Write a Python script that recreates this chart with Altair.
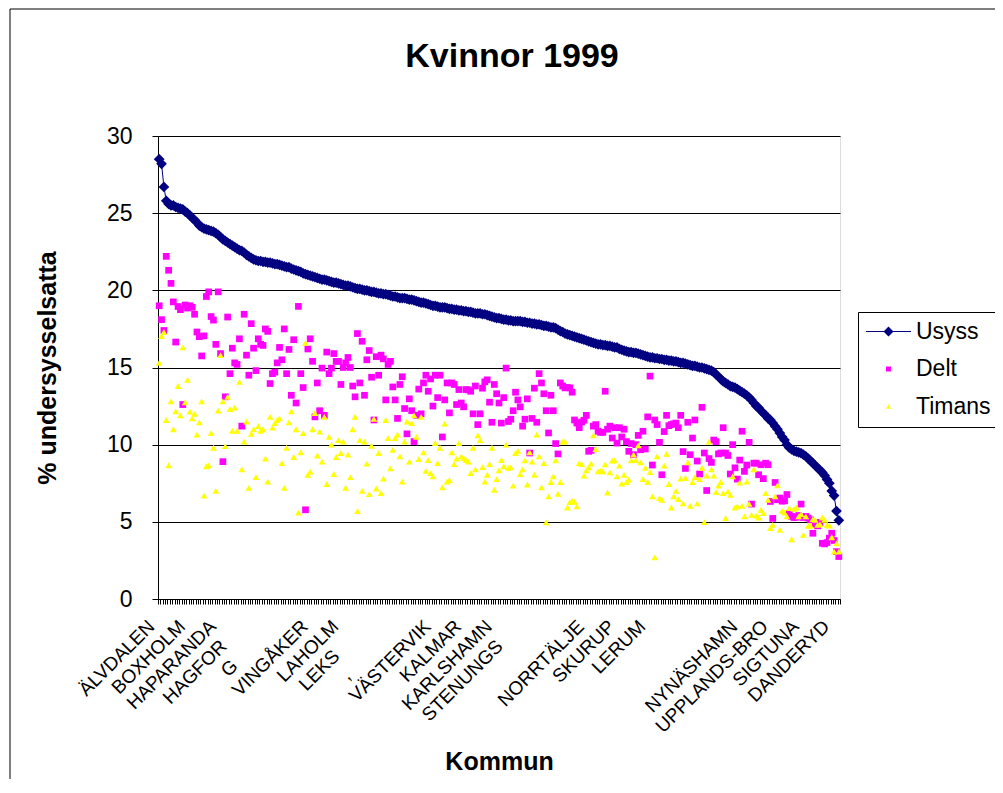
import json
import altair as alt
import pandas as pd

FONT = "Liberation Sans, Arial, sans-serif"

# ---- data ----
series_names = ["Usyss", "Delt", "Timans"]
series_colors = ["#000080", "#FF00FF", "#FFFF00"]

usyss = [
    28.5, 28.2, 26.7, 25.8, 25.6, 25.5, 25.5, 25.4, 25.35, 25.3,
    25.25, 25.1, 25.0, 24.85, 24.7, 24.55, 24.4, 24.2, 24.1, 24.0,
    23.95, 23.9, 23.85, 23.8, 23.7, 23.6, 23.45, 23.3, 23.2, 23.1,
    23.0, 22.9, 22.8, 22.7, 22.6, 22.55, 22.45, 22.3, 22.2, 22.1,
    22.0, 21.95, 21.9, 21.9, 21.85, 21.85, 21.8, 21.8, 21.75, 21.7,
    21.7, 21.65, 21.6, 21.55, 21.5, 21.5, 21.4, 21.35, 21.3, 21.25,
    21.2, 21.1, 21.05, 21.0, 20.95, 20.9, 20.85, 20.8, 20.75, 20.7,
    20.7, 20.65, 20.6, 20.55, 20.5, 20.5, 20.45, 20.4, 20.35, 20.3,
    20.3, 20.25, 20.2, 20.15, 20.1, 20.1, 20.05, 20.0, 20.0, 19.95,
    19.9, 19.9, 19.85, 19.8, 19.8, 19.75, 19.75, 19.7, 19.65, 19.6,
    19.6, 19.55, 19.5, 19.5, 19.5, 19.45, 19.4, 19.4, 19.35, 19.3,
    19.25, 19.2, 19.2, 19.15, 19.1, 19.05, 19.0, 19.0, 18.95, 18.9,
    18.9, 18.9, 18.85, 18.8, 18.8, 18.75, 18.75, 18.7, 18.7, 18.65,
    18.65, 18.6, 18.6, 18.55, 18.5, 18.5, 18.5, 18.45, 18.45, 18.4,
    18.35, 18.3, 18.25, 18.2, 18.2, 18.15, 18.1, 18.1, 18.05, 18.05,
    18.0, 18.0, 18.0, 18.0, 17.95, 17.95, 17.9, 17.9, 17.85, 17.85,
    17.8, 17.8, 17.75, 17.7, 17.7, 17.65, 17.6, 17.6, 17.55, 17.45,
    17.35, 17.3, 17.2, 17.15, 17.1, 17.05, 17.0, 16.95, 16.9, 16.85,
    16.8, 16.75, 16.7, 16.65, 16.6, 16.55, 16.5, 16.5, 16.45, 16.45,
    16.4, 16.4, 16.35, 16.3, 16.3, 16.2, 16.15, 16.1, 16.05, 16.0,
    16.0, 15.95, 15.95, 15.9, 15.85, 15.8, 15.75, 15.7, 15.65, 15.65,
    15.6, 15.6, 15.55, 15.55, 15.5, 15.5, 15.45, 15.45, 15.4, 15.4,
    15.35, 15.3, 15.3, 15.25, 15.2, 15.15, 15.1, 15.1, 15.05, 15.0,
    15.0, 14.95, 14.9, 14.85, 14.8, 14.7, 14.55, 14.4, 14.25, 14.1,
    14.0, 13.9, 13.8, 13.75, 13.7, 13.6, 13.5, 13.4, 13.3, 13.2,
    13.05, 12.9, 12.7, 12.5, 12.4, 12.2, 12.05, 11.9, 11.7, 11.6,
    11.4, 11.2, 11.0, 10.75, 10.5, 10.3, 10.0, 9.8, 9.7, 9.6,
    9.55, 9.5, 9.45, 9.35, 9.25, 9.1, 8.95, 8.8, 8.65, 8.5,
    8.35, 8.2, 8.0, 7.75, 7.5, 7.0, 6.7, 5.7, 5.1,
]

delt = [
    19.0, 18.1, 17.4, 22.2, 21.3, 20.45, 19.25, 16.65, 18.95, 18.75,
    12.6, 19.05, 18.85, 19.0, 18.9, 18.45, 17.3, 17.0, 15.75, 17.05, 19.6,
    19.9, 18.3, 18.07, 16.5, 19.9, 15.9, 8.9, 13.1, 18.27, 14.6,
    16.25, 15.3, 15.2, 16.86, 11.2, 18.45, 15.8, 14.5, 17.84, 16.25,
    14.8, 16.86, 16.5, 16.43, 17.5, 17.34, 13.96,
    14.6, 14.7, 15.3, 16.3, 15.5, 17.5, 14.6, 16.17, 13.2, 16.8,
    12.7, 18.96, 14.6, 13.7, 5.78, 16.2, 16.86, 15.4, 11.8, 14.0,
    12.2, 14.96, 11.9, 16.0, 14.6, 14.96, 15.9, 15.4, 15.4, 13.9,
    15.0, 15.3, 15.65, 15.0, 13.8, 13.1, 17.2, 14.0, 16.7, 13.2,
    15.5, 16.1, 14.37, 11.6, 15.7, 14.5, 15.8, 15.56, 12.9,
    15.2, 15.4, 13.74, 12.9, 11.7, 13.9, 14.4, 12.34, 10.7, 12.97,
    12.2, 10.2, 11.9, 13.6, 12.0, 14.0, 14.5, 13.46, 14.26, 12.5,
    14.5, 13.05, 14.5, 10.5, 12.9, 14.0, 12.06, 14.0, 13.9, 12.6,
    13.57, 12.7, 12.45, 13.57, 13.55, 13.46, 12.0, 13.8, 11.3, 12.0, 13.66,
    14.07, 14.2, 12.75, 11.45, 13.9, 13.3, 12.7, 11.4,
    13.05, 14.96, 11.5, 11.65, 12.2, 13.4, 12.9, 12.45, 11.2, 11.65,
    12.97, 9.46, 11.7, 13.66, 11.45, 14.6, 14.0, 13.3, 12.2, 10.76,
    13.2, 12.2, 10.07, 9.4, 14.0, 13.8, 13.68, 13.7, 13.68, 13.4, 11.6,
    11.4, 11.1, 11.47, 11.58, 11.9, 9.57, 9.63, 11.2, 11.3, 10.87, 10.8,
    10.8, 13.46, 11.0, 11.2, 10.43, 11.1, 10.1, 11.1,
    10.5, 11.0, 10.2, 9.57, 10.07, 9.35, 10.0, 10.6, 9.67, 10.87,
    9.72, 11.8, 14.44, 8.68, 11.6, 11.3, 10.15, 8.05, 10.85, 11.9,
    11.23, 11.3, 11.35, 11.4, 11.1, 11.9, 9.55, 8.46, 11.45, 9.35, 10.43,
    11.6, 8.94, 8.1, 12.42, 9.46, 7.03, 9.1, 8.85, 10.3, 10.2,
    9.4, 9.46, 11.1, 9.46, 9.3, 8.1, 10.0, 8.5,
    7.77, 9.0, 10.87, 8.27, 8.68, 10.15, 6.15, 8.8, 8.8, 8.05,
    8.7, 7.8, 8.8, 8.7, 6.32, 5.22, 7.55, 6.43, 6.54, 6.34,
    6.36, 6.77, 5.56, 5.35, 5.28, 5.3, 5.41, 6.15, 5.28, 5.35, 5.24,
    5.13, 4.26, 4.85, 4.74, 4.96, 3.61, 3.57, 3.66, 3.94, 4.26,
    3.79, 3.07, 2.75,
]

timans = [
    15.3, 17.03, 17.3, 11.6, 8.66, 12.8, 11.0, 12.16, 13.8, 11.9,
    16.3, 12.75, 14.2, 12.14, 11.7, 12.0, 10.65, 11.45, 12.8, 6.7,
    8.6, 8.66, 10.75, 9.8, 7.0, 12.2, 15.8, 12.8, 9.9, 13.1,
    12.3, 10.9, 12.4, 10.9, 14.07, 8.4, 10.2, 11.5, 7.2, 10.7,
    11.0, 7.9, 11.2, 10.9, 11.0, 9.1, 7.6, 11.8,
    11.1, 11.4, 11.6, 11.7, 8.8, 7.2, 9.8, 11.45, 12.16, 9.2,
    11.0, 5.6, 9.5, 10.75, 16.6, 8.05, 8.25, 11.0, 12.05, 9.3,
    10.85, 8.9, 11.8, 7.45, 10.5, 10.0, 8.1, 9.2, 10.3, 9.46,
    10.2, 7.2, 9.35, 7.9, 11.0, 11.8, 5.7, 10.3, 7.0, 10.2,
    8.77, 6.8, 9.93, 11.67, 7.16, 9.46, 6.86, 7.8, 11.6,
    10.43, 8.46, 9.67, 10.43, 10.65, 9.24, 7.6, 10.2, 11.5, 8.9,
    11.4, 11.9, 10.5, 9.07, 11.8, 9.5, 8.3, 9.0, 8.16, 7.94,
    10.1, 8.8, 9.8, 7.23, 11.36, 7.6, 7.7, 9.5, 8.74, 9.1,
    10.1, 9.24, 9.13, 9.0, 8.9, 8.16, 9.8, 8.4, 10.6, 10.3,
    8.55, 7.6, 8.05, 8.74, 9.8, 7.08, 7.77, 8.33, 9.0,
    8.6, 10.0, 8.5, 8.53, 7.34, 9.46, 9.6, 8.1, 8.4, 8.98,
    7.42, 9.5, 8.9, 8.05, 10.65, 9.24, 7.23, 8.8, 4.96, 6.65,
    7.58, 7.94, 8.98, 6.82, 7.58, 10.2, 10.2, 5.93, 6.28, 6.36,
    6.3, 6.0, 8.8, 8.74, 8.0, 8.33, 8.53, 8.77, 10.6, 9.72,
    8.27, 8.3, 8.27, 8.72, 6.9, 8.2, 8.96, 8.98, 7.94, 8.64,
    7.47, 8.05, 7.58, 7.73, 8.98, 9.35, 9.0, 9.96, 8.85, 7.77,
    8.5, 7.58, 8.22, 6.65, 2.7, 9.24, 6.54, 6.43, 8.64, 9.4,
    7.45, 5.93, 6.65, 7.0, 6.47, 7.8, 6.2, 7.84, 8.85, 6.04,
    7.58, 7.9, 6.2, 7.77, 8.5, 4.98, 8.0, 10.2, 8.4, 8.0,
    6.93, 7.34, 7.58, 6.86, 5.24, 6.97, 6.75, 7.94, 5.93, 6.0,
    7.55, 6.04, 5.35, 7.6, 6.17, 5.45, 8.4, 5.4, 5.28, 5.78,
    5.56, 6.86, 6.43, 4.6, 4.8, 6.65, 7.36, 4.48, 5.71, 5.6,
    5.35, 5.89, 3.87, 5.84, 5.93, 5.35, 5.5, 4.16, 5.35, 4.74,
    4.76, 5.17, 5.13, 4.8, 4.85, 5.28, 5.13, 4.8, 4.76, 4.0,
    3.07, 3.61, 3.07,
]

n_categories = 289
# category number (1-based) of each visible x-axis label, and its (partly hidden) text
label_categories = [1, 14, 27, 40, 53, 66, 79, 92, 105, 118, 131, 144,
                    157, 183, 196, 209, 248, 261, 274, 287]
BL = "\u2800"  # blank placeholder standing in for the hidden end of a clipped label
label_texts = ["ÄLVDALEN", "BOXHOLM", "HAPARANDA", "HAGFOR" + BL * 2,
               "G" + BL * 4, "VINGÅKER", "LAHOLM", "LEKS" + BL * 3,
               "," + BL * 5, "VÄSTERVIK", "KALMAR", "KARLSHAMN",
               "STENUNGS" + BL * 2, "NORRTÄLJE", "SKURUP", "LERUM",
               "NYNÄSHAMN", "UPPLANDS-BRO", "SIGTUNA", "DANDERYD"]
y_ticks = [0, 5, 10, 15, 20, 25, 30]

# ---- table ----
rows = []
for name, vals in zip(series_names, [usyss, delt, timans]):
    for i, v in enumerate(vals):
        rows.append({"pos": i + 0.5, "value": v, "serie": name})
df = pd.DataFrame(rows)

boundary_labels = [""] * (n_categories + 1)
for c, t in zip(label_categories, label_texts):
    boundary_labels[c - 1] = t
label_expr = json.dumps(boundary_labels, ensure_ascii=False) + "[datum.value]"

x_axis = alt.Axis(
    values=list(range(0, n_categories + 1)), labelExpr=label_expr,
    labelAngle=315, labelAlign="right", labelBaseline="middle",
    labelFont=FONT, labelFontSize=19, labelColor="black",
    labelOverlap=False, labelFlush=False, labelPadding=19, labelOffset=-7,
    labelLimit=400,
    tickSize=5, tickColor="black", tickWidth=1,
    domainColor="black", domainWidth=1, grid=False,
    title="Kommun", titleFont=FONT, titleFontSize=25, titleFontWeight="bold",
    titleColor="black", titleBaseline="alphabetic", titleY=170,
)
y_axis = alt.Axis(
    values=y_ticks, labelFont=FONT, labelFontSize=23, labelColor="black",
    labelPadding=20, tickSize=6, tickColor="black", domainColor="black",
    grid=True, gridColor="black", gridWidth=1,
    title="% undersysselsatta", titleFont=FONT, titleFontSize=25,
    titleFontWeight="bold", titleColor="black", titlePadding=46,
)

X = alt.X("pos:Q", scale=alt.Scale(domain=[0, n_categories], nice=False, zero=False), axis=x_axis)
Y = alt.Y("value:Q", scale=alt.Scale(domain=[0, 30], nice=False), axis=y_axis)

usyss_legend_path = "M-9,-0.2H9V0.2H-9Z M0,-2L2,0L0,2L-2,0Z"
legend = alt.Legend(
    orient="none", legendX=700, legendY=176, direction="vertical",
    strokeColor="black", fillColor="white", padding=8, rowPadding=13.5,
    labelFont=FONT, labelFontSize=23, labelColor="black", labelOffset=16,
    symbolOffset=11, symbolSize=25, symbolStrokeWidth=0, labelLimit=300,
)
color_scale = alt.Scale(domain=series_names, range=series_colors)
shape_scale = alt.Scale(domain=series_names, range=[usyss_legend_path, "square", "triangle-up"])

base = alt.Chart(df)
usyss_line = base.transform_filter(alt.datum.serie == "Usyss").mark_line(
    color=series_colors[0], strokeWidth=1).encode(x=X, y=Y)
usyss_pts = base.transform_filter(alt.datum.serie == "Usyss").mark_point(
    shape="diamond", filled=True, size=115, color=series_colors[0], opacity=1).encode(x=X, y=Y)
other_pts = base.transform_filter(alt.datum.serie != "Usyss").mark_point(
    filled=True, size=45, opacity=1).encode(
    x=X, y=Y,
    color=alt.Color("serie:N", scale=color_scale, legend=legend, title=None),
    shape=alt.Shape("serie:N", scale=shape_scale, legend=legend, title=None),
)

frame = alt.Chart(alt.Data(values=[{"f": 1}])).mark_rect(
    fillOpacity=0, stroke="black", strokeWidth=1).encode(
    x=alt.value(-148), x2=alt.value(900), y=alt.value(-127), y2=alt.value(700))

chart = alt.layer(frame, usyss_line, usyss_pts, other_pts).properties(
    width=682, height=463,
    padding={"left": 150, "top": 128, "right": 155, "bottom": 180},
    autosize=alt.AutoSizeParams(type="none"),
    title=alt.TitleParams("Kvinnor 1999", font=FONT, fontSize=34, fontWeight="bold",
                          color="black", anchor="middle", frame="group", offset=0,
                          dx=13, dy=65),
).configure_view(stroke="#808080", strokeWidth=1).configure(background="white")

chart.save("out.html", embed_options={"renderer": "svg", "actions": False})
